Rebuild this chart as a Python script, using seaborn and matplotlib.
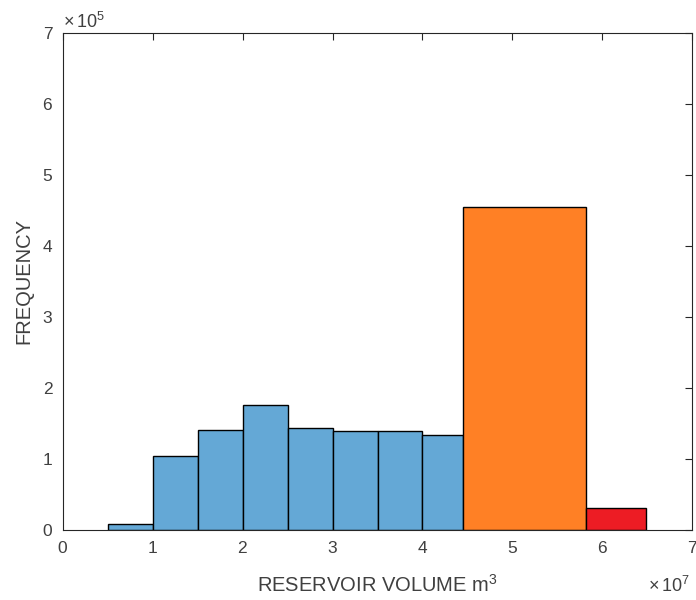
import numpy as np
import pandas as pd
import matplotlib
matplotlib.use("Agg")
import matplotlib.pyplot as plt
import seaborn as sns

# bin edges (m^3) and frequencies
blue_edges = [0.5e7, 1.0e7, 1.5e7, 2.0e7, 2.5e7, 3.0e7, 3.5e7, 4.0e7, 4.455e7]
blue_counts = [8000, 104000, 141000, 176000, 143000, 139000, 139000, 134000]
orange_edges = [4.455e7, 5.82e7]
orange_counts = [455000]
red_edges = [5.82e7, 6.49e7]
red_counts = [30500]

blue_color = "#64a8d6"
orange_color = "#ff8025"
red_color = "#ed1c24"

sns.set_style("white")
plt.rcParams["font.family"] = ["Liberation Sans", "DejaVu Sans"]
plt.rcParams["mathtext.default"] = "regular"
plt.rcParams["mathtext.fontset"] = "custom"
plt.rcParams["mathtext.rm"] = "Liberation Sans"

fig = plt.figure(figsize=(6.96, 6.0), dpi=100)
ax = fig.add_axes([0.0905, 0.1167, 0.9038, 0.8283])


def draw(edges, counts, color):
    centers = [(a + b) / 2 for a, b in zip(edges[:-1], edges[1:])]
    df = pd.DataFrame({"vol": centers, "freq": counts})
    sns.histplot(data=df, x="vol", weights="freq", bins=list(edges), ax=ax,
                 color=color, alpha=1, edgecolor="black", linewidth=1.0)


draw(blue_edges, blue_counts, blue_color)
draw(orange_edges, orange_counts, orange_color)
draw(red_edges, red_counts, red_color)

ax.set_xlim(0, 7e7)
ax.set_ylim(0, 7e5)
ax.set_xticks(np.arange(0, 8) * 1e7)
ax.set_yticks(np.arange(0, 8) * 1e5)
ax.ticklabel_format(style="sci", scilimits=(0, 0), useMathText=True)
ax.xaxis.get_offset_text().set_visible(False)
ax.yaxis.get_offset_text().set_visible(False)

tick_color = "#404040"
for s in ax.spines.values():
    s.set_visible(True)
    s.set_color("#262626")
    s.set_linewidth(0.8)
ax.tick_params(direction="in", length=5, width=0.8, top=True, right=True,
               labelsize=12.5, colors="#262626", labelcolor=tick_color, pad=7)

# exponent labels, MATLAB style
fig.text(0.091, 0.946, r"$\times\,10^{5}$", fontsize=13, color=tick_color,
         ha="left", va="bottom")
fig.text(0.992, 0.007, r"$\times\,10^{7}$", fontsize=13, color=tick_color,
         ha="right", va="bottom")

ax.set_xlabel("RESERVOIR VOLUME m$^3$", fontsize=14.5, color=tick_color, labelpad=13)
ax.set_ylabel("FREQUENCY", fontsize=14.5, color=tick_color, labelpad=6)

fig.savefig("out.png", dpi=100)
